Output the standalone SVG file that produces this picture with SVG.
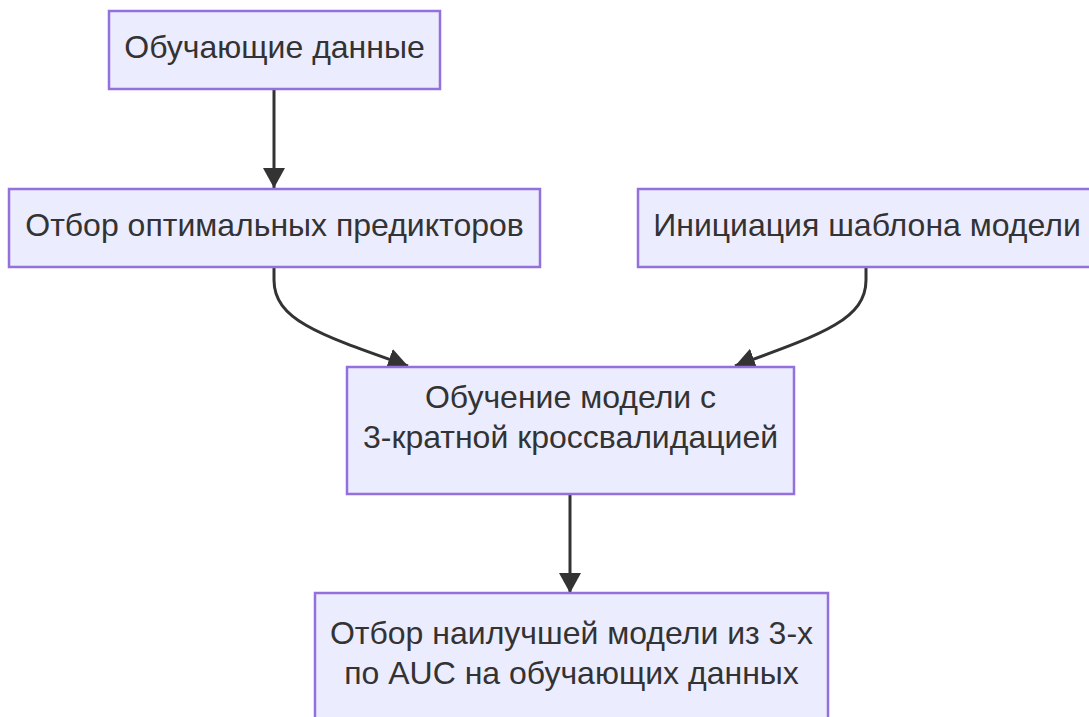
<svg xmlns="http://www.w3.org/2000/svg" width="1089" height="717" viewBox="0 0 1089 717">
<style>
.node rect{fill:#ECECFF;stroke:#9370DB;stroke-width:2.5}
.node text{font-family:"Liberation Sans",Arial,sans-serif;font-size:32px;fill:#333;text-anchor:middle}
.edge{fill:none;stroke:#333;stroke-width:3}
</style>
<defs>
<marker id="arrow" markerUnits="userSpaceOnUse" markerWidth="22" markerHeight="24" refX="20" refY="11" orient="auto" viewBox="0 0 22 22">
<path d="M0,0 L20,11 L0,22 z" fill="#333"/>
</marker>
</defs>
<rect width="1089" height="717" fill="#fff"/>
<g id="edges">
<path class="edge" d="M274,89 L274,188" marker-end="url(#arrow)"/>
<path class="edge" d="M274,268 L274,280 C274,320 320,335 408,366" marker-end="url(#arrow)"/>
<path class="edge" d="M866,268 L866,280 C866,320 820,335 735,366" marker-end="url(#arrow)"/>
<path class="edge" d="M570,494 L570,593" marker-end="url(#arrow)"/>
</g>
<g id="n1" class="node"><rect x="109" y="11" width="331" height="78"/><text x="274.5" y="58">Обучающие данные</text></g>
<g id="n2" class="node"><rect x="9" y="189" width="531" height="78"/><text x="274.5" y="236">Отбор оптимальных предикторов</text></g>
<g id="n3" class="node"><rect x="638" y="189" width="456" height="78"/><text x="867" y="236">Инициация шаблона модели</text></g>
<g id="n4" class="node"><rect x="347" y="367" width="447" height="127"/><text x="570.5" y="408">Обучение модели с</text><text x="570.5" y="448">3-кратной кроссвалидацией</text></g>
<g id="n5" class="node"><rect x="315" y="593" width="513" height="127"/><text x="571.5" y="644">Отбор наилучшей модели из 3-х</text><text x="571.5" y="684">по AUC на обучающих данных</text></g>
</svg>
